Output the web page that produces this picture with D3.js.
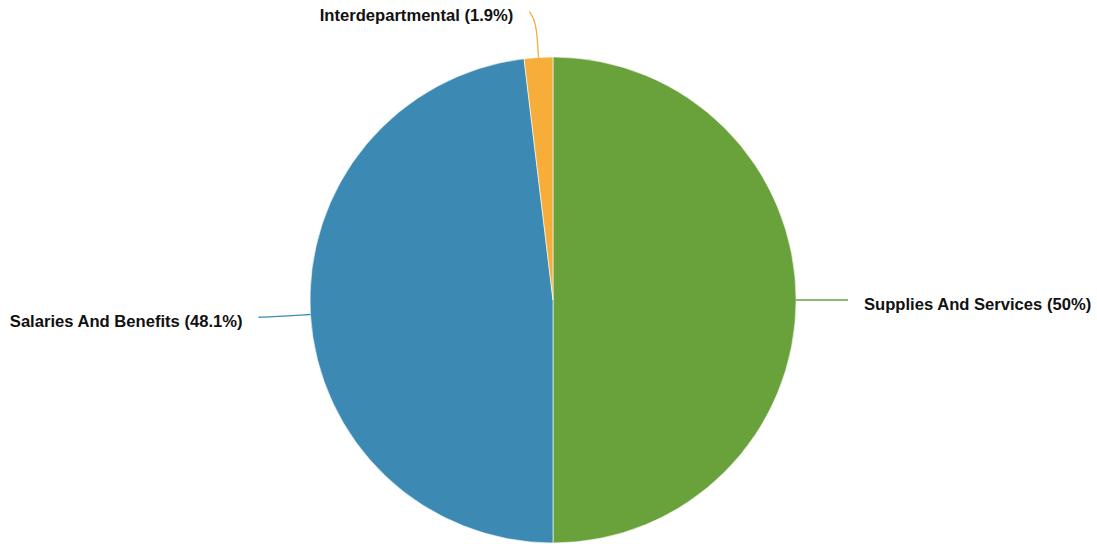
<!DOCTYPE html>
<html>
<head>
<meta charset="utf-8">
<script src="https://cdn.jsdelivr.net/npm/d3@7"></script>
<style>
  html, body { margin: 0; padding: 0; background: #fff; }
  svg { display: block; }
</style>
</head>
<body>
<svg id="chart" width="1097" height="544"></svg>
<script>
// Expenditure share by category
const categories = ["Supplies And Services", "Salaries And Benefits", "Interdepartmental"];
const values = [50, 48.1, 1.9];
const colors = ["#69a13a", "#3c8ab4", "#f6ad3a"];

const width = 1097, height = 544;
const cx = 553, cy = 300, radius = 243;

const svg = d3.select("#chart");
const g = svg.append("g").attr("transform", `translate(${cx},${cy})`);

const data = categories.map((c, i) => ({ name: c, value: values[i], color: colors[i] }));
const total = d3.sum(values);
const pct = d3.format(".1~f");

const pie = d3.pie().value(d => d.value).sort(null).startAngle(0).endAngle(2 * Math.PI);
const arcs = pie(data);

const arc = d3.arc().innerRadius(0).outerRadius(radius);

g.selectAll("path.slice")
  .data(arcs)
  .join("path")
  .attr("class", "slice")
  .attr("d", arc)
  .attr("fill", d => d.data.color)
  .attr("stroke", "#fff")
  .attr("stroke-width", 0.6);

// label connector geometry derived from each slice's middle angle
function polar(a, r) { return [r * Math.sin(a), -r * Math.cos(a)]; }

const labelInfo = arcs.map(d => {
  const mid = (d.startAngle + d.endAngle) / 2;
  const s = Math.sin(mid), c = Math.cos(mid);
  const side = s >= 0 ? 1 : -1;
  const p0 = polar(mid, radius);
  const p1 = polar(mid, radius + 36);
  const p2 = [p1[0] + side * Math.max(16 * Math.abs(s), 7), p1[1] - 10 * c];
  return { d, side, pts: [p0, p1, p2] };
});

const line = d3.line().curve(d3.curveBasis);

g.selectAll("path.connector")
  .data(labelInfo)
  .join("path")
  .attr("class", "connector")
  .attr("d", l => line(l.pts))
  .attr("fill", "none")
  .attr("stroke", l => l.d.data.color)
  .attr("stroke-width", 1.3);

g.selectAll("text.label")
  .data(labelInfo)
  .join("text")
  .attr("class", "label")
  .attr("x", l => l.pts[2][0] + l.side * 16)
  .attr("y", l => l.pts[2][1] + 4)
  .attr("dy", "0.35em")
  .attr("text-anchor", l => l.side > 0 ? "start" : "end")
  .attr("font-family", "'Liberation Sans', Arial, Helvetica, sans-serif")
  .attr("font-weight", "bold")
  .attr("font-size", 16.6)
  .attr("fill", "#111")
  .text(l => `${l.d.data.name} (${pct(l.d.data.value / total * 100)}%)`);
</script>
</body>
</html>
